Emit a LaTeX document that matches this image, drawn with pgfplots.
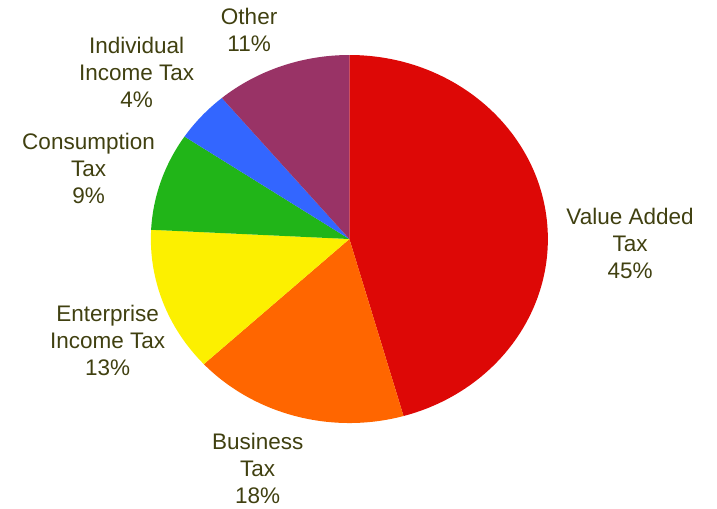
\documentclass[border=0pt]{standalone}
\usepackage{pgfplots}
\pgfplotsset{compat=1.18}
\usepackage{fontspec}
\setmainfont{Liberation Sans}

\definecolor{cvat}{RGB}{221,8,6}
\definecolor{cbus}{RGB}{255,102,0}
\definecolor{cent}{RGB}{252,240,0}
\definecolor{ccon}{RGB}{33,181,24}
\definecolor{cind}{RGB}{51,102,255}
\definecolor{coth}{RGB}{153,51,102}
\definecolor{ctext}{RGB}{64,64,16}

% radii of the (slightly elliptic) pie
\def\rx{99.25pt}
\def\ry{92pt}
% #1 = percent before this slice, #2 = slice percent, #3 = colour
\newcommand{\slice}[3]{%
  \fill[#3] (axis cs:0,0) -- ++({90-3.6*#1}:\rx\space and \ry)
    arc[start angle={90-3.6*#1}, delta angle={-3.6*#2}, x radius=\rx, y radius=\ry] -- cycle;}

\tikzset{lbl/.style={font=\fontsize{11.25}{13.5}\selectfont, text=ctext, align=center, inner sep=0pt}}

\begin{document}
\begin{tikzpicture}
\begin{axis}[
    x=99.25pt, y=92pt,
    xmin=-1.760, xmax=1.852,
    ymin=-1.467, ymax=1.299,
    hide axis,
    clip=false,
  ]
  \path (axis cs:-1.760,-1.467) rectangle (axis cs:1.852,1.299);
  % shares (percent), clockwise from the top
  \slice{0}{45.6}{cvat}
  \slice{45.6}{17.5}{cbus}
  \slice{63.1}{12.7}{cent}
  \slice{75.8}{8.6}{ccon}
  \slice{84.4}{4.5}{cind}
  \slice{88.9}{11.1}{coth}

  \node[lbl] at (axis cs:1.414,-0.024) {Value Added\\Tax\\45\%};
  \node[lbl] at (axis cs:-0.462,-1.245) {Business\\Tax\\18\%};
  \node[lbl] at (axis cs:-1.218,-0.549) {Enterprise\\Income Tax\\13\%};
  \node[lbl] at (axis cs:-1.314,0.383) {Consumption\\Tax\\9\%};
  \node[lbl] at (axis cs:-1.072,0.905) {Individual\\Income Tax\\4\%};
  \node[lbl] at (axis cs:-0.505,1.139) {Other\\11\%};
\end{axis}
\end{tikzpicture}
\end{document}
